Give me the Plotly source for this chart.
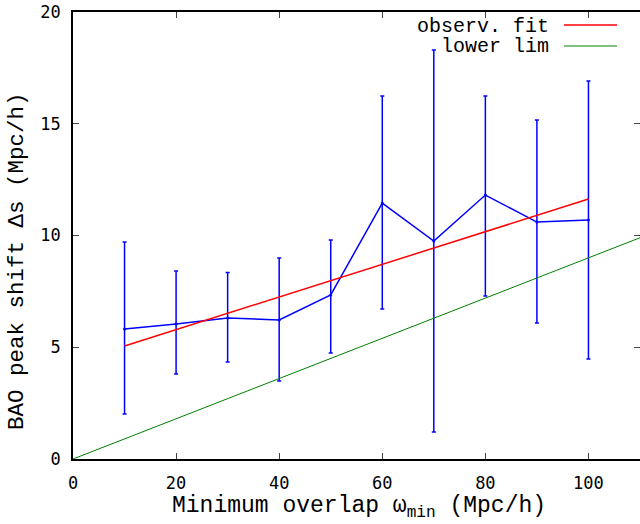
import plotly.graph_objects as go

# Data
omega_min = [10, 20, 30, 40, 50, 60, 70, 80, 90, 100]
shift = [5.82, 6.04, 6.31, 6.22, 7.34, 11.45, 9.75, 11.81, 10.60, 10.69]
err_top = [9.71, 8.41, 8.35, 8.99, 9.80, 16.24, 18.30, 16.24, 15.17, 16.91]
err_bottom = [2.01, 3.80, 4.34, 3.49, 4.74, 6.71, 1.21, 7.29, 6.08, 4.47]

fit_x = [10, 100]
fit_y = [5.06, 11.63]

lower_x = [0, 110]
lower_y = [0.0, 9.9]

x_ticks = [0, 20, 40, 60, 80, 100]
y_ticks = [0, 5, 10, 15, 20]

err_plus = [t - v for t, v in zip(err_top, shift)]
err_minus = [v - b for v, b in zip(shift, err_bottom)]

mono = "Liberation Mono, Courier New, monospace"
tickfam = "DejaVu Sans Mono, monospace"

L, R, T, B = 73, 640, 12, 459
PW, PH = R - L, B - T

def px(xp):
    return (xp - L) / PW

def py(yp):
    return 1 - (yp - T) / PH

fig = go.Figure()
fig.add_trace(go.Scatter(
    x=omega_min, y=shift, mode="lines+markers",
    line=dict(color="#0000ff", width=1.5),
    marker=dict(color="#0000ff", size=3),
    error_y=dict(type="data", symmetric=False, array=err_plus, arrayminus=err_minus,
                 color="#0000ff", thickness=1.5, width=2),
    showlegend=False,
))
fig.add_trace(go.Scatter(x=fit_x, y=fit_y, mode="lines",
                         line=dict(color="#ff0000", width=1.5), showlegend=False))
fig.add_trace(go.Scatter(x=lower_x, y=lower_y, mode="lines",
                         line=dict(color="#008000", width=1), showlegend=False))

# Legend (gnuplot style: text right-aligned, sample line to the right)
legend_items = [("observ. fit", "#ff0000", 1.5), ("lower lim", "#008000", 1)]
for i, (label, col, w) in enumerate(legend_items):
    ypx = 25 + i * 21
    fig.add_annotation(text=label, xref="paper", yref="paper",
                       x=px(551), y=py(ypx + 1), xanchor="right", yanchor="middle",
                       showarrow=False, font=dict(family=mono, size=20, color="black"))
    fig.add_shape(type="line", xref="paper", yref="paper",
                  x0=px(564), x1=px(617), y0=py(ypx), y1=py(ypx),
                  line=dict(color=col, width=w))

# Axis titles
fig.add_annotation(text="Minimum overlap ω<sub>min</sub> (Mpc/h)", xref="paper", yref="paper",
                   x=px(359), y=py(507), xanchor="center", yanchor="middle", showarrow=False,
                   font=dict(family=mono, size=23, color="black"))
fig.add_annotation(text="BAO peak shift Δs (Mpc/h)", xref="paper", yref="paper",
                   x=px(17), y=py(261), xanchor="center", yanchor="middle", showarrow=False,
                   textangle=-90, font=dict(family=mono, size=22.5, color="black"))

fig.update_layout(
    width=640, height=524,
    margin=dict(l=L, r=640 - R, t=T, b=524 - B, autoexpand=False),
    plot_bgcolor="white", paper_bgcolor="white",
    xaxis=dict(range=[0, 110], tickvals=x_ticks, ticks="inside", ticklen=6,
               showline=True, linecolor="black", linewidth=1.5, mirror="ticks",
               showgrid=False, zeroline=False, automargin=False, ticklabelstandoff=8,
               tickfont=dict(family=tickfam, size=17, color="black")),
    yaxis=dict(range=[0, 20], tickvals=y_ticks, ticks="inside", ticklen=6,
               showline=True, linecolor="black", linewidth=1.5, mirror="ticks",
               showgrid=False, zeroline=False, automargin=False, ticklabelstandoff=7,
               tickfont=dict(family=tickfam, size=17, color="black")),
)

fig.write_html("out.html", config={"displayModeBar": False},
               post_script="document.body.style.margin='0';")
